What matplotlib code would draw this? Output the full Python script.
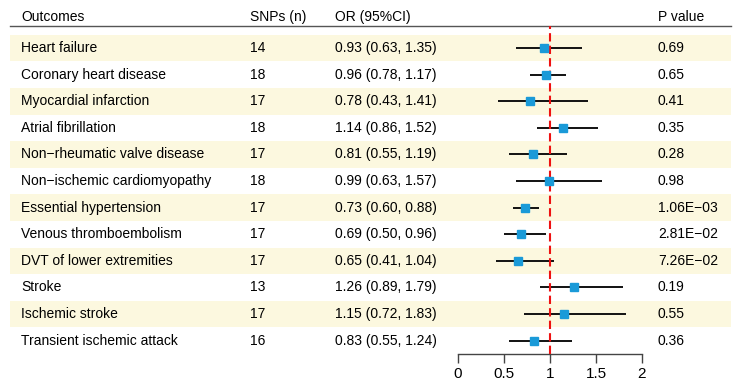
import matplotlib
matplotlib.use("Agg")
import matplotlib.pyplot as plt
from matplotlib.patches import Rectangle
from matplotlib.transforms import blended_transform_factory

plt.rcParams['font.family'] = ['Liberation Sans', 'DejaVu Sans']

outcomes = ["Heart failure", "Coronary heart disease", "Myocardial infarction",
            "Atrial fibrillation", "Non\u2212rheumatic valve disease",
            "Non\u2212ischemic cardiomyopathy", "Essential hypertension",
            "Venous thromboembolism", "DVT of lower extremities", "Stroke",
            "Ischemic stroke", "Transient ischemic attack"]
snps = [14, 18, 17, 18, 17, 18, 17, 17, 17, 13, 17, 16]
or_est = [0.93, 0.96, 0.78, 1.14, 0.81, 0.99, 0.73, 0.69, 0.65, 1.26, 1.15, 0.83]
ci_low = [0.63, 0.78, 0.43, 0.86, 0.55, 0.63, 0.60, 0.50, 0.41, 0.89, 0.72, 0.55]
ci_high = [1.35, 1.17, 1.41, 1.52, 1.19, 1.57, 0.88, 0.96, 1.04, 1.79, 1.83, 1.24]
pvals = ["0.69", "0.65", "0.41", "0.35", "0.28", "0.98", "1.06E\u221203",
         "2.81E\u221202", "7.26E\u221202", "0.19", "0.55", "0.36"]

W, H = 741, 392
fig = plt.figure(figsize=(W / 100, H / 100), dpi=100)
ax = fig.add_axes([458 / W, 1 - 354 / H, 184 / W, (354 - 26) / H])
ax.patch.set_visible(False)
ax.set_xlim(0, 2)
ax.set_ylim(11.5, -0.83)

tr = blended_transform_factory(fig.transFigure, ax.transData)
band = "#fcf8df"
fs = 10

# alternating row bands
for i in range(len(outcomes)):
    if i % 2 == 0:
        ax.add_patch(Rectangle((10 / W, i - 0.5), 721 / W, 1, transform=tr,
                               facecolor=band, edgecolor="none", clip_on=False, zorder=0))

# header
hy = -1.17
ax.text(21 / W, hy, "Outcomes", transform=tr, fontsize=fs, va="center")
ax.text(250 / W, hy, "SNPs (n)", transform=tr, fontsize=fs, va="center")
ax.text(335 / W, hy, "OR (95%CI)", transform=tr, fontsize=fs, va="center")
ax.text(658 / W, hy, "P value", transform=tr, fontsize=fs, va="center")
ax.plot([10 / W, 731 / W], [-0.83, -0.83], transform=tr, color="#555555",
        lw=1, clip_on=False)

# table rows
for i, name in enumerate(outcomes):
    ax.text(21 / W, i, name, transform=tr, fontsize=fs, va="center")
    ax.text(250 / W, i, str(snps[i]), transform=tr, fontsize=fs, va="center")
    ax.text(335 / W, i, f"{or_est[i]:.2f} ({ci_low[i]:.2f}, {ci_high[i]:.2f})",
            transform=tr, fontsize=fs, va="center")
    ax.text(658 / W, i, pvals[i], transform=tr, fontsize=fs, va="center")

# forest
ys = list(range(len(outcomes)))
ax.hlines(ys, ci_low, ci_high, color="#111111", lw=1.4, zorder=2)
ax.axvline(1, color="#ee1111", lw=1.5, linestyle=(0, (4, 2)), zorder=3)
ax.plot(or_est, ys, linestyle="none", marker="s", markersize=5.5,
        color="#1a9ad8", zorder=4)

for s in ["left", "right", "top"]:
    ax.spines[s].set_visible(False)
ax.spines["bottom"].set_color("#444444")
ax.spines["bottom"].set_linewidth(1)
ax.set_yticks([])
ax.set_xticks([0, 0.5, 1, 1.5, 2])
ax.set_xticklabels(["0", "0.5", "1", "1.5", "2"])
ax.tick_params(axis="x", length=6.5, width=1, color="#444444", labelsize=11, pad=2.5)

fig.savefig("out.png", dpi=100)
